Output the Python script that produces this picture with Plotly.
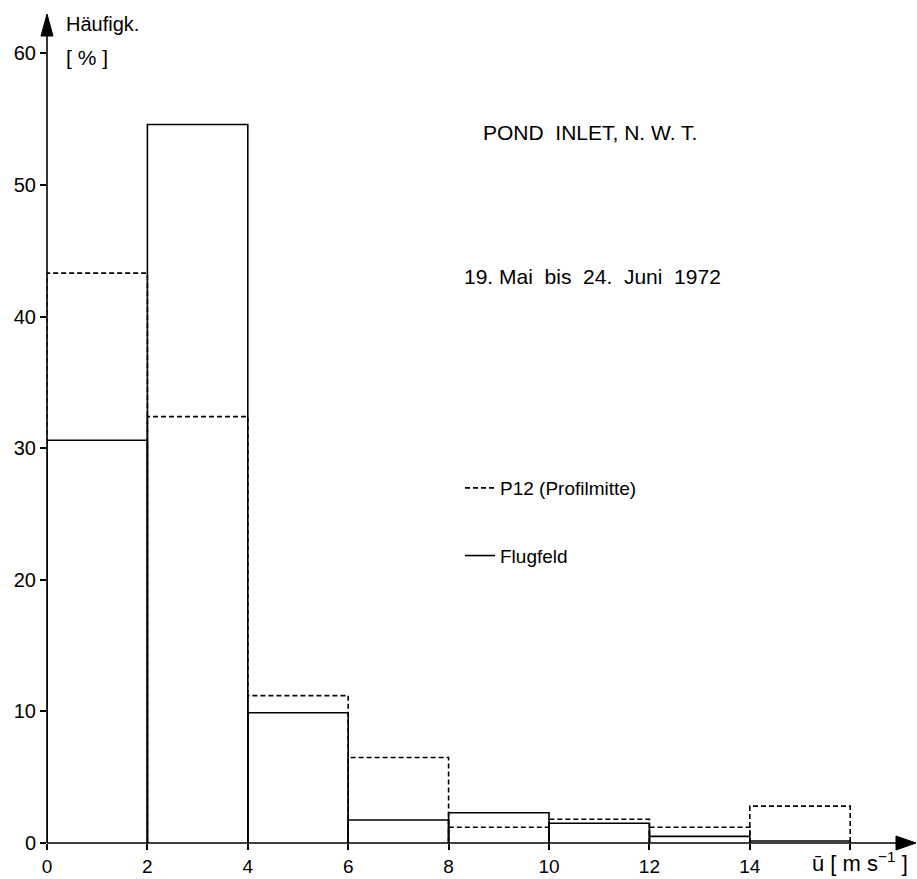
import plotly.graph_objects as go

# ---- data ----
bin_edges = [0, 2, 4, 6, 8, 10, 12, 14, 16]
flugfeld = [30.6, 54.6, 9.9, 1.75, 2.3, 1.5, 0.5, 0.15]
p12 = [43.3, 32.4, 11.2, 6.5, 1.2, 1.8, 1.2, 2.8]
x_tickvals = [0, 2, 4, 6, 8, 10, 12, 14]
x_ticktext = ["0", "2", "4", "6", "8", "10", "12", "14"]
x_minor_ticks = [16]
y_tickvals = [0, 10, 20, 30, 40, 50, 60]

W, H = 917, 879
ML, MR, MT, MB = 47, 12, 15, 36
PW, PH = W - ML - MR, H - MT - MB
XPX, YPX = 50.2, 13.16
FONT = "Liberation Sans"


def boxes(vals):
    xs, ys = [], []
    for i, v in enumerate(vals):
        a, b = bin_edges[i], bin_edges[i + 1]
        xs += [a, a, b, b, None]
        ys += [0, v, v, 0, None]
    return xs, ys


def px(p):
    return (p - ML) / PW


def py(p):
    return (H - MB - p) / PH


fig = go.Figure()
xs, ys = boxes(p12)
fig.add_trace(go.Scatter(x=xs, y=ys, mode="lines", name="P12 (Profilmitte)",
                         legendgroup="a",
                         line=dict(color="black", width=1.6, dash="5px,3px")))
xs, ys = boxes(flugfeld)
fig.add_trace(go.Scatter(x=xs, y=ys, mode="lines", name="Flugfeld",
                         legendgroup="b",
                         line=dict(color="black", width=1.6)))

shapes = [
    # y axis line + arrow
    dict(type="line", xref="paper", yref="paper", x0=px(47), x1=px(47), y0=py(843), y1=py(30),
         line=dict(color="black", width=1.6)),
    dict(type="path", xref="paper", yref="paper",
         path=f"M {px(41)},{py(36)} L {px(47)},{py(14)} L {px(53)},{py(36)} Z",
         fillcolor="black", line=dict(color="black", width=1)),
    # x axis line + arrow
    dict(type="line", xref="paper", yref="paper", x0=px(47), x1=px(905), y0=py(843), y1=py(843),
         line=dict(color="black", width=1.6)),
    dict(type="path", xref="paper", yref="paper",
         path=f"M {px(896)},{py(836)} L {px(916)},{py(843)} L {px(896)},{py(850)} Z",
         fillcolor="black", line=dict(color="black", width=1)),
]

annotations = [
    dict(text="Häufigk.", x=px(64), y=py(24), xref="paper", yref="paper",
         xanchor="left", yanchor="middle", showarrow=False, font=dict(size=20)),
    dict(text="[ % ]", x=px(64), y=py(57), xref="paper", yref="paper",
         xanchor="left", yanchor="middle", showarrow=False, font=dict(size=21)),
    dict(text="ū [ m s<sup>−1</sup> ]", x=px(810), y=py(862), xref="paper", yref="paper",
         xanchor="left", yanchor="middle", showarrow=False, font=dict(size=22)),
    dict(text="POND  INLET, N. W. T.", x=px(590), y=py(133), xref="paper", yref="paper",
         xanchor="center", yanchor="middle", showarrow=False, font=dict(size=21)),
    dict(text="19. Mai  bis  24.  Juni  1972", x=px(592), y=py(277), xref="paper", yref="paper",
         xanchor="center", yanchor="middle", showarrow=False, font=dict(size=21)),
]

fig.update_layout(
    width=W, height=H,
    margin=dict(l=ML, r=MR, t=MT, b=MB),
    paper_bgcolor="white", plot_bgcolor="white",
    font=dict(family=FONT, color="black", size=19),
    shapes=shapes,
    annotations=annotations,
    showlegend=True,
    legend=dict(x=px(460), y=py(469), xanchor="left", yanchor="top",
                bgcolor="rgba(0,0,0,0)", tracegroupgap=40,
                font=dict(size=19), itemwidth=30),
    xaxis=dict(range=[0, PW / XPX], tickvals=x_tickvals, ticktext=x_ticktext,
               ticks="outside", ticklen=6, tickwidth=1.5, tickcolor="black",
               ticklabelstandoff=0, automargin=False,
               minor=dict(tickvals=x_minor_ticks, ticks="outside", ticklen=6,
                          tickwidth=1.5, tickcolor="black"),
               showgrid=False, zeroline=False, showline=False,
               tickfont=dict(size=19)),
    yaxis=dict(range=[0, PH / YPX], tickvals=y_tickvals, automargin=False,
               ticks="outside", ticklen=6, tickwidth=1.5, tickcolor="black",
               showgrid=False, zeroline=False, showline=False,
               tickfont=dict(size=20)),
)

fig.write_html("out.html")
